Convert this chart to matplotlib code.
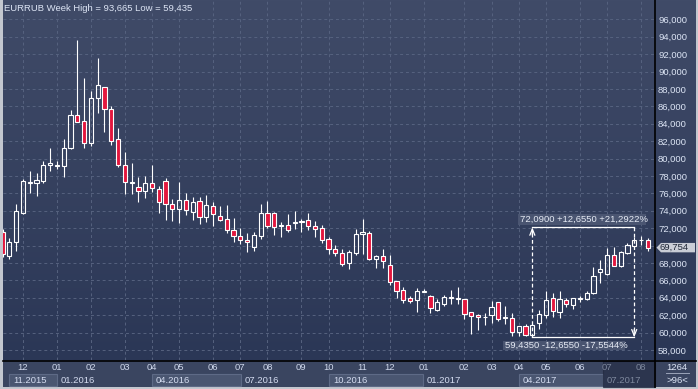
import numpy as np
import matplotlib
matplotlib.use("Agg")
import matplotlib.pyplot as plt
from matplotlib.patches import Rectangle, Polygon
from matplotlib.lines import Line2D
from matplotlib.transforms import blended_transform_factory

plt.rcParams['font.family'] = ['Liberation Sans', 'DejaVu Sans']

# ---------------- data (weekly EURRUB candles) ----------------
opens = [71.59, 68.79, 70.37, 73.77, 77.20, 77.15, 77.45, 79.22, 79.15, 79.17,
         81.17, 84.97, 84.28, 81.82, 86.92, 88.18, 85.69, 82.24, 79.25, 77.20,
         76.69, 76.30, 77.15, 76.46, 77.41, 74.74, 74.23, 75.20, 73.89, 75.08,
         73.31, 74.50, 73.36, 73.01, 71.78, 71.06, 70.63, 69.86, 71.13, 73.70,
         73.74, 72.28, 72.36, 72.58, 72.72, 72.90, 72.21, 71.98, 70.71, 69.56,
         69.10, 67.95, 69.17, 71.29, 71.40, 68.48, 68.79, 67.72, 65.89, 64.89,
         63.93, 63.77, 64.66, 64.20, 62.62, 63.24, 63.97, 63.86, 63.82, 62.36,
         61.98, 61.76, 61.98, 63.47, 61.68, 61.63, 60.02, 60.78, 59.68, 61.06,
         62.05, 63.97, 62.36, 63.70, 63.20, 63.90, 63.82, 64.58, 66.95, 66.69,
         68.87, 67.68, 69.17, 69.94, 70.60, 70.63]
highs = [71.90, 70.83, 74.80, 77.64, 78.53, 78.30, 79.75, 81.20, 79.71, 82.24,
         85.57, 93.665, 89.29, 87.76, 91.55, 88.25, 86.03, 83.50, 80.75, 79.48,
         77.84, 77.99, 79.25, 76.84, 77.76, 75.34, 77.30, 76.03, 75.57, 75.57,
         75.80, 75.00, 74.54, 74.66, 73.16, 71.98, 71.40, 71.55, 74.80, 75.11,
         73.85, 72.70, 73.62, 73.97, 73.08, 73.74, 72.78, 72.36, 70.98, 70.02,
         69.56, 69.45, 71.90, 73.05, 71.63, 68.90, 69.56, 68.87, 65.95, 65.23,
         64.20, 65.11, 65.00, 64.31, 63.82, 64.35, 64.89, 65.23, 63.85, 62.40,
         62.16, 62.20, 63.62, 63.50, 63.08, 62.24, 60.75, 60.98, 60.94, 62.59,
         64.77, 64.58, 64.77, 63.93, 63.97, 64.23, 64.74, 67.49, 68.33, 69.71,
         69.79, 69.40, 70.25, 70.94, 71.09, 70.86]
lows = [68.70, 68.41, 69.40, 73.66, 76.00, 75.72, 77.15, 78.53, 78.80, 77.91,
        81.10, 84.20, 81.24, 81.44, 85.20, 83.08, 81.59, 78.99, 75.89, 75.89,
        75.03, 75.49, 76.11, 73.77, 72.93, 72.82, 72.62, 73.47, 72.93, 72.51,
        72.70, 72.24, 72.82, 71.40, 70.44, 70.21, 69.29, 69.40, 70.78, 72.05,
        71.21, 71.01, 71.59, 71.90, 71.59, 71.78, 71.01, 70.32, 69.02, 68.83,
        67.61, 67.33, 68.94, 69.06, 68.30, 67.45, 67.41, 65.50, 64.00, 63.43,
        63.43, 62.39, 64.62, 62.28, 62.47, 63.01, 63.24, 63.24, 61.59, 59.79,
        60.32, 60.90, 61.13, 61.32, 60.98, 59.63, 59.63, 59.60, 59.435, 60.44,
        61.70, 61.82, 61.63, 62.90, 62.74, 63.47, 63.74, 64.39, 65.72, 66.65,
        67.61, 67.53, 69.06, 69.79, 70.06, 69.33]
closes = [69.02, 70.37, 73.93, 77.41, 77.25, 77.49, 79.22, 79.45, 79.19, 81.17,
          84.97, 84.23, 81.75, 86.92, 88.41, 85.66, 81.98, 79.22, 77.26, 77.24,
          76.30, 77.15, 76.57, 75.03, 74.74, 74.23, 75.20, 74.05, 74.97, 73.31,
          74.62, 73.59, 72.97, 71.75, 71.06, 70.60, 70.40, 71.17, 73.74, 72.28,
          72.16, 72.36, 71.82, 72.66, 72.78, 72.21, 71.93, 70.67, 69.56, 69.10,
          67.84, 69.22, 71.29, 71.55, 68.45, 68.83, 68.18, 65.77, 64.80, 63.77,
          63.66, 64.77, 64.72, 62.78, 63.50, 64.08, 64.03, 63.92, 62.09, 61.86,
          61.75, 61.80, 62.90, 61.52, 61.72, 60.02, 60.75, 59.71, 60.83, 62.09,
          63.70, 62.44, 63.89, 63.24, 63.97, 63.95, 64.51, 66.53, 67.26, 68.87,
          67.68, 69.22, 70.02, 70.60, 70.66, 69.754]

month_idx = [3, 8, 13, 18, 22, 26, 31, 35, 39, 44, 48, 53, 57, 62, 68, 72, 76, 80, 85, 89, 94]
month_labels = ['12', '01', '02', '03', '04', '05', '06', '07', '08', '09', '10',
                '11', '12', '01', '02', '03', '04', '05', '06', '07', '08']
year_labels = ['11.2015', '01.2016', '04.2016', '07.2016', '10.2016', '01.2017', '04.2017', '07.2017']
year_start = [1.0, 7.97, 22.05, 35.05, 48.1, 61.95, 76.05, 88.45]
y_ticks = np.arange(58, 97, 2)

ann_low_idx, ann_high_idx = 78, 93
ann_low, ann_high = 59.435, 72.09

symbol = 'EURRUB'
period = 'Week'
bars_visible = '>96<'
bars_total = '1264'

# ---------------- layout ----------------
W, H = 698, 389
fig = plt.figure(figsize=(W / 100, H / 100), dpi=100, facecolor='#c3c7cf')


def fx(x):
    return x / W


def fy(y):
    return 1 - y / H


def fmt(v, d):
    return f"{v:.{d}f}".replace('.', ',')


FS = 6.8
TXT = '#dde5f5'

# background gradient (plot + right axis panel)
bgax = fig.add_axes([fx(2.5), fy(360), (695.5 - 2.5) / W, 360 / H], zorder=0)
bgax.axis('off')
g = np.linspace(0, 1, 256)[:, None, None]
ctop = np.array([0x40, 0x4b, 0x68]) / 255
cbot = np.array([0x2b, 0x37, 0x56]) / 255
bgax.imshow(ctop + (cbot - ctop) * g, aspect='auto', extent=[0, 1, 0, 1], origin='upper')

# bottom panel
fig.add_artist(Rectangle((fx(2.5), fy(386.5)), 693 / W, 26.5 / H, transform=fig.transFigure,
                         facecolor='#3a4560', edgecolor='none', zorder=0.5))

ax = fig.add_axes([fx(2.5), fy(360), (655 - 2.5) / W, 360 / H], zorder=1)
ax.set_facecolor('none')
ax.set_xlim(-0.015, 96.06)
ax.set_ylim(56.84, 98.22)
for s in ax.spines.values():
    s.set_visible(False)

last = closes[-1]
ax.yaxis.tick_right()
ax.set_yticks(y_ticks)
# the tick label hidden behind the last-price marker is left blank
ax.set_yticklabels(['' if abs(v - last) < 0.8 else fmt(v, 3) for v in y_ticks])
ax.tick_params(axis='y', length=0, pad=2.2, labelsize=FS, labelcolor=TXT)
ax.set_xticks(month_idx)
ax.set_xticklabels(month_labels)
ax.tick_params(axis='x', length=0, pad=2.4, labelsize=FS, labelcolor='#cfd8ec')
for lab, i in zip(ax.get_xticklabels(), month_idx):
    if i >= 89:
        lab.set_color('#7d879c')
ax.grid(True, color='#56627f', lw=0.7, ls=(0, (3, 3)))
ax.set_axisbelow(True)

# ---------------- candles ----------------
x = np.arange(len(opens))
o = np.array(opens); h = np.array(highs); l = np.array(lows); c = np.array(closes)
top = np.maximum(o, c); bot = np.minimum(o, c)
ax.vlines(x, top, h, color='white', lw=0.8, zorder=2)
ax.vlines(x, l, bot, color='white', lw=0.8, zorder=2)
up = c >= o
face = ['none' if u else '#e3173e' for u in up]
ax.bar(x, np.maximum(top - bot, 0.08), bottom=bot, width=0.62, color=face,
       edgecolor='white', linewidth=0.8, zorder=3)

# ---------------- measurement annotation ----------------
diff = ann_high - ann_low
dash = (0, (3, 2))
ax.plot([ann_low_idx, ann_high_idx], [ann_high, ann_high], color='white', lw=0.9, zorder=4)
ax.plot([ann_low_idx, ann_high_idx], [ann_low, ann_low], color='white', lw=0.9, zorder=4)
ax.plot([ann_low_idx, ann_low_idx], [ann_low, ann_high - 0.6], color='white', lw=0.9, ls=dash, zorder=4)
ax.plot([ann_high_idx, ann_high_idx], [ann_high, ann_low + 0.6], color='white', lw=0.9, ls=dash, zorder=4)
ax.annotate('', xy=(ann_low_idx, ann_high), xytext=(ann_low_idx, ann_high - 0.9),
            arrowprops=dict(arrowstyle='->,head_length=0.45,head_width=0.18', color='white',
                            lw=0.9, shrinkA=0, shrinkB=0), zorder=5)
ax.annotate('', xy=(ann_high_idx, ann_low), xytext=(ann_high_idx, ann_low + 0.9),
            arrowprops=dict(arrowstyle='->,head_length=0.45,head_width=0.18', color='white',
                            lw=0.9, shrinkA=0, shrinkB=0), zorder=5)

t_up = f"{fmt(ann_high, 4)} +{fmt(diff, 4)} +{fmt(diff / ann_low * 100, 4)}%"
t_dn = f"{fmt(ann_low, 4)} -{fmt(diff, 4)} -{fmt(diff / ann_high * 100, 4)}%"
ax.add_patch(Rectangle((ann_low_idx - 2.1, ann_high + 0.3), 18.9, 1.2, facecolor='#4d5874',
                       edgecolor='none', alpha=0.9, zorder=4))
ax.text(ann_low_idx - 1.8, ann_high + 0.9, t_up, fontsize=FS, color='#e6ebf5',
        va='center', ha='left', zorder=6)
ax.add_patch(Rectangle((ann_low_idx - 4.35, ann_low - 1.445), 18.0, 1.07, facecolor='#4d5874',
                       edgecolor='none', alpha=0.9, zorder=4))
ax.text(ann_low_idx - 4.0, ann_low - 0.88, t_dn, fontsize=FS, color='#e6ebf5',
        va='center', ha='left', zorder=6)

# ---------------- title ----------------
fig.text(fx(4), fy(8.3), f"{symbol} {period} High = {fmt(max(highs), 3)} Low = {fmt(min(lows), 3)}",
         fontsize=FS, color=TXT, va='center', ha='left', zorder=5)

# ---------------- year band ----------------
bt = blended_transform_factory(ax.transData, fig.transFigure)
bounds = year_start + [96.06]
for k, lab in enumerate(year_labels):
    x0, x1 = bounds[k], bounds[k + 1]
    if k % 2 == 0 and k < len(year_labels) - 1:
        fig.add_artist(Rectangle((x0, fy(386.3)), x1 - x0, 12.3 / H, transform=bt,
                                 facecolor='#4a5671', edgecolor='#5e6a86', lw=0.8, zorder=0.6))
    col = '#7d879c' if k == len(year_labels) - 1 else '#d4dcf0'
    fig.text(x0 + 0.55, fy(380.2), lab, transform=bt, fontsize=FS, color=col,
             va='center', ha='left', zorder=5)
# dimmed scroll region
fig.add_artist(Rectangle((year_start[-1], fy(386.5)), 96.06 - year_start[-1], 26 / H, transform=bt,
                         facecolor='#283049', edgecolor='#222a40', lw=0.8, alpha=0.75, zorder=0.7))

# bottom-right corner
fig.text(fx(677), fy(367.3), bars_total, fontsize=FS, color=TXT, ha='center', va='center', zorder=5)
fig.add_artist(Line2D([fx(666), fx(689)], [fy(373)] * 2, color='#9aa3b8', lw=0.7, zorder=5))
fig.text(fx(677), fy(380.2), bars_visible, fontsize=FS, color=TXT, ha='center', va='center', zorder=5)

# separator lines
fig.add_artist(Line2D([fx(2.5), fx(695.5)], [fy(360.5)] * 2, color='black', lw=1.2, zorder=4))
fig.add_artist(Line2D([fx(655.3)] * 2, [fy(0), fy(386.5)], color='black', lw=1.2, zorder=4))

# last price marker
yl = 19.3 + (96 - last) * 8.7
fig.add_artist(Polygon([(fx(656.5), fy(yl)), (fx(661), fy(yl - 4.7)), (fx(695), fy(yl - 4.7)),
                        (fx(695), fy(yl + 4.7)), (fx(661), fy(yl + 4.7))],
                       closed=True, transform=fig.transFigure, facecolor='#c9cdd6',
                       edgecolor='none', zorder=5))
fig.text(fx(660), fy(yl), fmt(last, 3), fontsize=FS, color='#1e2636',
         va='center', ha='left', zorder=6)

fig.savefig('out.png', dpi=100, facecolor=fig.get_facecolor())
